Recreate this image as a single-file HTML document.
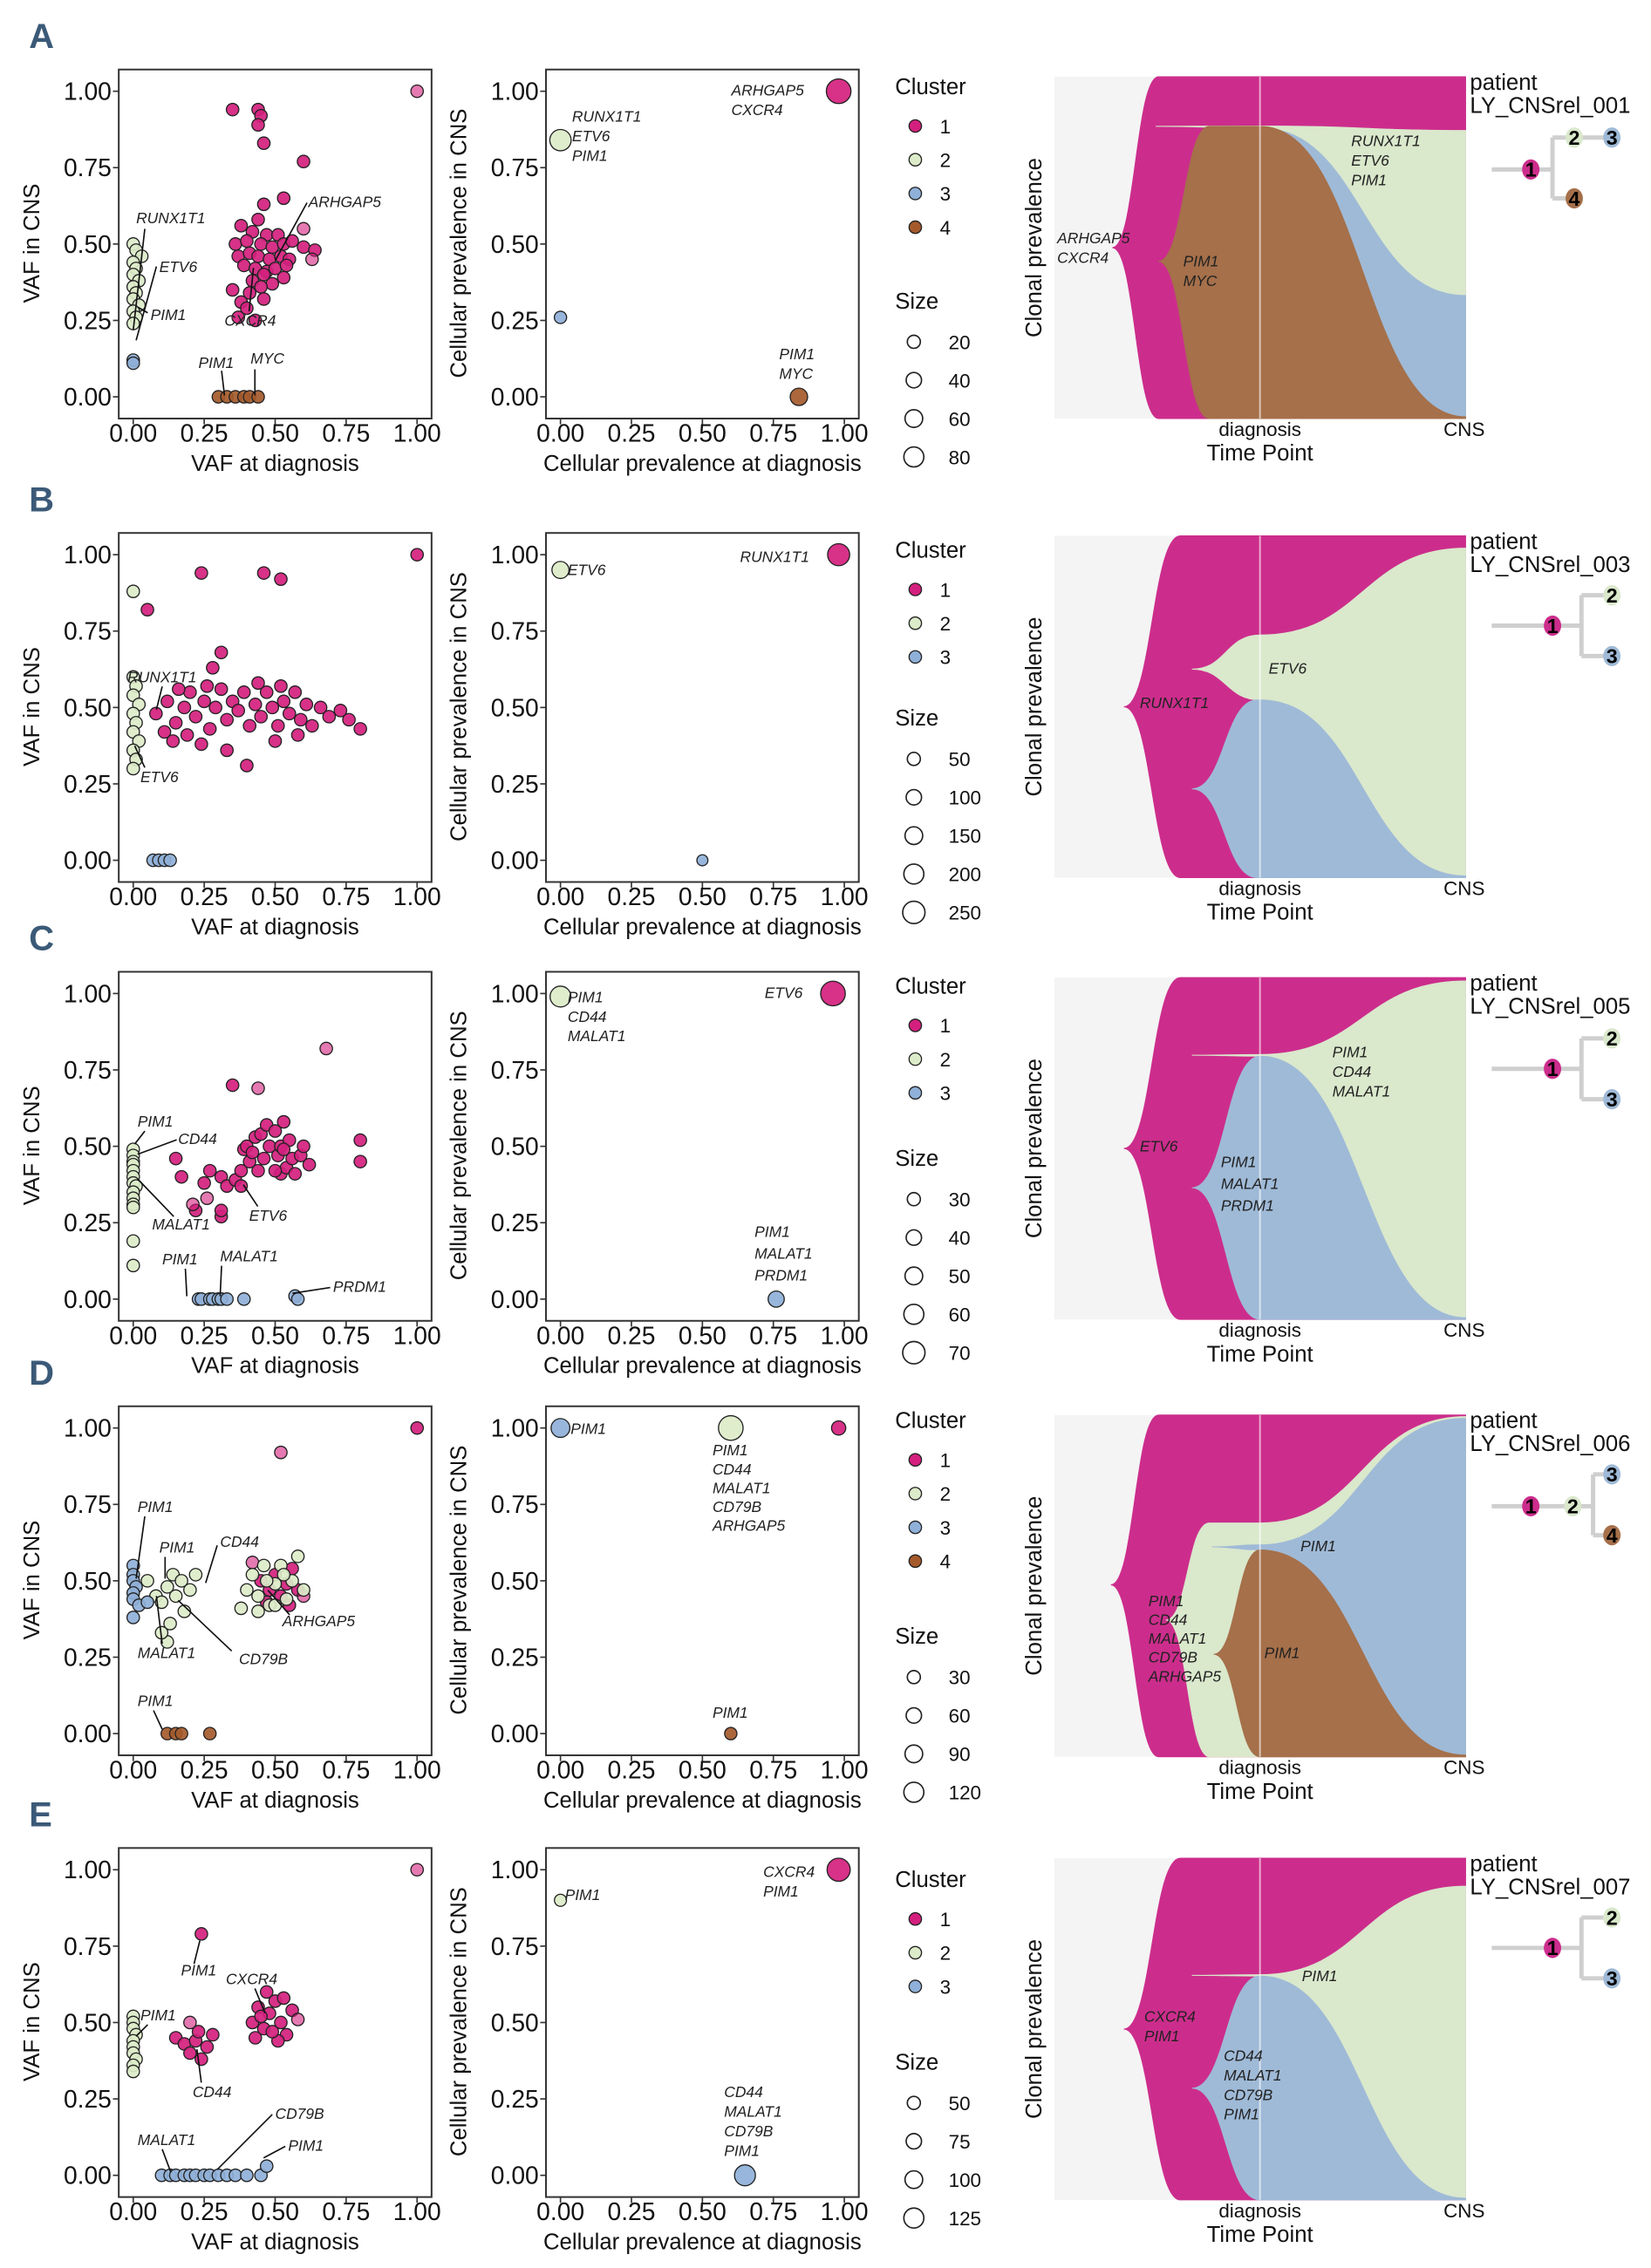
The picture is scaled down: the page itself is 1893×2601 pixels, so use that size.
<!DOCTYPE html>
<html><head><meta charset="utf-8"><style>
html,body{margin:0;padding:0;background:#fff}
svg{display:block}
text{font-family:"Liberation Sans",sans-serif}
</style></head><body>
<svg id="fig" xmlns="http://www.w3.org/2000/svg" width="1893" height="2601" viewBox="0 0 1140 1566" preserveAspectRatio="none"></svg>
<script>
// ---------- data ----------
const panelLetters=['A','B','C','D','E'];
const panelDy=[0,320,623,923,1228];
const fishTop=[53,370,675,977,1283];
const patients=['LY_CNSrel_001','LY_CNSrel_003','LY_CNSrel_005','LY_CNSrel_006','LY_CNSrel_007'];
const clusterCounts=[4,3,3,4,3];
const sizeLegend=[[20,40,60,80],[50,100,150,200,250],[30,40,50,60,70],[30,60,90,120],[50,75,100,125]];
const xTicks=[0,0.25,0.5,0.75,1];
const xTickLabels=['0.00','0.25','0.50','0.75','1.00'];

// scatter 1 (VAF): [x, y, cluster, light]
const A_vaf=[[0.35,0.94,1],[0.44,0.94,1],[0.45,0.92,1],[0.44,0.89,1],[0.46,0.83,1],[0.6,0.77,1],[0.53,0.65,1],[0.46,0.63,1],[0.44,0.58,1],[0.38,0.56,1],[0.42,0.54,1],[0.47,0.53,1],[0.51,0.53,1],[0.36,0.5,1],[0.40,0.51,1],[0.45,0.5,1],[0.49,0.49,1],[0.53,0.5,1],[0.56,0.51,1],[0.6,0.49,1],[0.64,0.48,1],[0.37,0.46,1],[0.41,0.47,1],[0.44,0.46,1],[0.48,0.45,1],[0.52,0.46,1],[0.55,0.45,1],[0.39,0.43,1],[0.43,0.42,1],[0.47,0.41,1],[0.5,0.42,1],[0.54,0.43,1],[0.46,0.4,1],[0.42,0.38,1],[0.49,0.37,1],[0.53,0.39,1],[0.35,0.35,1],[0.41,0.34,1],[0.45,0.36,1],[0.38,0.31,1],[0.46,0.32,1],[0.40,0.29,1],[0.37,0.26,1],[0.43,0.25,1],[1,1,1,1],[0.6,0.55,1,1],[0.63,0.45,1,1],
[0,0.5,2],[0.01,0.48,2],[0.03,0.46,2],[0,0.44,2],[0.01,0.42,2],[0,0.40,2],[0.02,0.38,2],[0,0.36,2],[0.01,0.34,2],[0,0.32,2],[0.02,0.30,2],[0,0.28,2],[0.01,0.26,2],[0,0.24,2],
[0,0.12,3],[0,0.11,3],
[0.30,0,4],[0.33,0,4],[0.36,0,4],[0.39,0,4],[0.41,0,4],[0.44,0,4]];
const B_vaf=[[0.05,0.82,1],[0.24,0.94,1],[0.46,0.94,1],[0.52,0.92,1],[0.31,0.68,1],[0.28,0.63,1],[0.08,0.48,1],[0.12,0.52,1],[0.15,0.45,1],[0.18,0.5,1],[0.2,0.55,1],[0.22,0.47,1],[0.25,0.52,1],[0.27,0.43,1],[0.29,0.5,1],[0.31,0.56,1],[0.33,0.46,1],[0.35,0.52,1],[0.37,0.49,1],[0.39,0.55,1],[0.41,0.44,1],[0.43,0.51,1],[0.45,0.47,1],[0.47,0.55,1],[0.49,0.5,1],[0.51,0.44,1],[0.53,0.52,1],[0.55,0.48,1],[0.57,0.55,1],[0.59,0.46,1],[0.61,0.51,1],[0.63,0.44,1],[0.66,0.5,1],[0.69,0.47,1],[0.73,0.49,1],[0.8,0.43,1],[0.76,0.46,1],[0.11,0.42,1],[0.14,0.39,1],[0.19,0.41,1],[0.24,0.38,1],[0.33,0.36,1],[0.4,0.31,1],[0.5,0.39,1],[0.58,0.41,1],[0.16,0.56,1],[0.26,0.57,1],[0.44,0.58,1],[0.52,0.57,1],[1,1,1],
[0,0.88,2],[0,0.6,2],[0.01,0.57,2],[0,0.54,2],[0.02,0.51,2],[0,0.48,2],[0.01,0.45,2],[0,0.42,2],[0.02,0.39,2],[0,0.36,2],[0.01,0.33,2],[0,0.3,2],
[0.07,0,3],[0.09,0,3],[0.11,0,3],[0.13,0,3]];
const C_vaf=[[0.35,0.7,1],[0.44,0.69,1,1],[0.68,0.82,1,1],[0.8,0.52,1],[0.8,0.45,1],[0.15,0.46,1],[0.17,0.4,1],[0.25,0.38,1],[0.27,0.42,1],[0.31,0.4,1],[0.33,0.37,1],[0.36,0.39,1],[0.38,0.37,1],[0.22,0.29,1],[0.31,0.27,1],[0.31,0.29,1],[0.21,0.31,1,1],[0.26,0.33,1,1],[0.38,0.42,1],[0.39,0.49,1],[0.4,0.5,1],[0.41,0.45,1],[0.42,0.48,1],[0.43,0.53,1],[0.44,0.42,1],[0.45,0.54,1],[0.46,0.46,1],[0.47,0.57,1],[0.48,0.5,1],[0.5,0.55,1],[0.51,0.47,1],[0.52,0.5,1],[0.52,0.41,1],[0.53,0.58,1],[0.54,0.43,1],[0.55,0.52,1],[0.56,0.46,1],[0.57,0.41,1],[0.59,0.47,1],[0.6,0.5,1],[0.62,0.44,1],[0.5,0.42,1],[0.53,0.49,1],
[0,0.49,2],[0,0.47,2],[0,0.45,2],[0,0.44,2],[0,0.42,2],[0,0.40,2],[0,0.38,2],[0.01,0.37,2],[0,0.35,2],[0,0.33,2],[0,0.31,2],[0,0.30,2],[0,0.19,2],[0,0.11,2],
[0.23,0,3],[0.24,0,3],[0.27,0,3],[0.28,0,3],[0.3,0,3],[0.31,0,3],[0.33,0,3],[0.39,0,3],[0.57,0.01,3],[0.58,0,3]];
const D_vaf=[[1,1,1],[0.52,0.92,1,1],[0.45,0.5,1],[0.48,0.47,1],[0.5,0.52,1],[0.52,0.45,1],[0.54,0.49,1],[0.56,0.54,1],[0.58,0.47,1],[0.47,0.43,1],[0.55,0.42,1],[0.6,0.45,1,1],[0.42,0.56,1,1],
[0.05,0.5,2],[0.08,0.45,2],[0.1,0.43,2],[0.12,0.48,2],[0.14,0.52,2],[0.15,0.45,2],[0.17,0.5,2],[0.18,0.4,2],[0.2,0.47,2],[0.22,0.52,2],[0.13,0.36,2],[0.12,0.3,2],[0.1,0.33,2],[0.4,0.47,2],[0.42,0.52,2],[0.44,0.45,2],[0.46,0.55,2],[0.48,0.42,2],[0.5,0.49,2],[0.52,0.55,2],[0.54,0.44,2],[0.56,0.5,2],[0.58,0.58,2],[0.6,0.47,2],[0.38,0.41,2],[0.44,0.4,2],[0.5,0.42,2],[0.47,0.5,2],[0.53,0.52,2],
[0,0.55,3],[0,0.52,3],[0,0.5,3],[0.01,0.48,3],[0,0.46,3],[0,0.44,3],[0.02,0.42,3],[0,0.38,3],[0.05,0.43,3],
[0.12,0,4],[0.15,0,4],[0.17,0,4],[0.27,0,4]];
const E_vaf=[[1,1,1,1],[0.24,0.79,1],[0.15,0.45,1],[0.18,0.43,1],[0.2,0.4,1],[0.22,0.44,1],[0.24,0.38,1],[0.26,0.42,1],[0.23,0.47,1],[0.28,0.46,1],[0.2,0.5,1,1],[0.42,0.5,1],[0.44,0.55,1],[0.46,0.48,1],[0.48,0.53,1],[0.5,0.57,1],[0.52,0.5,1],[0.54,0.46,1],[0.47,0.6,1],[0.51,0.44,1],[0.45,0.52,1],[0.56,0.54,1],[0.49,0.47,1],[0.43,0.45,1],[0.53,0.58,1],[0.58,0.51,1,1],
[0,0.52,2],[0,0.5,2],[0,0.48,2],[0.01,0.46,2],[0,0.44,2],[0,0.42,2],[0,0.4,2],[0.01,0.38,2],[0,0.36,2],[0,0.34,2],
[0.1,0,3],[0.13,0,3],[0.15,0,3],[0.18,0,3],[0.2,0,3],[0.22,0,3],[0.25,0,3],[0.27,0,3],[0.3,0,3],[0.33,0,3],[0.36,0,3],[0.4,0,3],[0.45,0,3],[0.47,0.03,3]];
const vafData=[A_vaf,B_vaf,C_vaf,D_vaf,E_vaf];

// scatter 2 (cellular prevalence): [x, y, cluster, size]
const A_cp=[[0,0.84,2,60],[0,0.26,3,20],[0.84,0,4,40],[0.98,1,1,80]];
const B_cp=[[0,0.95,2,120],[0.98,1,1,200],[0.5,0,3,50]];
const C_cp=[[0,0.99,2,50],[0.96,1,1,70],[0.76,0,3,30]];
const D_cp=[[0,1,3,70],[0.6,1,2,120],[0.98,1,1,40],[0.6,0,4,30]];
const E_cp=[[0,0.9,2,30],[0.98,1,1,110],[0.65,0,3,90]];
const cpData=[A_cp,B_cp,C_cp,D_cp,E_cp];

// fish clones: cluster, emergence x, emergence frac, full-at x, band at diagnosis, band at CNS
const A_fish=[[1,768,0.5,800,[0,1],[0,1]],[2,798,0.145,870,[0.144,0.15],[0.157,1]],[3,866,0.15,870,[0.15,1],[0.64,1]],[4,800,0.54,835,[0.145,1],[0.995,1]]];
const B_fish=[[1,776,0.5,815,[0,1],[0,1]],[2,823,0.39,870,[0.29,0.48],[0.036,1]],[3,823,0.74,868,[0.48,1],[0.995,1]]];
const C_fish=[[1,776,0.5,815,[0,1],[0,1]],[2,823,0.227,870,[0.225,0.23],[0.01,1]],[3,823,0.615,870,[0.23,1],[0.995,1]]];
const D_fish=[[1,767,0.497,800,[0,1],[0,1]],[2,805,0.6,835,[0.316,1],[0.005,1]],[3,837,0.386,870,[0.38,0.395],[0.01,1]],[4,838,0.70,870,[0.395,1],[0.995,1]]];
const E_fish=[[1,776,0.5,815,[0,1],[0,1]],[2,823,0.343,870,[0.341,0.345],[0.082,1]],[3,823,0.673,870,[0.345,1],[0.995,1]]];
const fishData=[A_fish,B_fish,C_fish,D_fish,E_fish];

// ---------- drawing ----------
const NS='http://www.w3.org/2000/svg';
const svg=document.getElementById('fig');
const ptCol={1:'#d41f7e',2:'#dcebc9',3:'#8fb0d8',4:'#a55a2b'};
const fishCol={1:'#cc2d8c',2:'#dae8cc',3:'#9fbad7',4:'#a5704a'};
function mk(tag,at,par){const e=document.createElementNS(NS,tag);for(const k in at)e.setAttribute(k,at[k]);(par||svg).appendChild(e);return e;}
function txt(s,x,y,at,par){const e=mk('text',Object.assign({x:x,y:y},at||{}),par);e.textContent=s;return e;}
function lbl(lines,x,y,step){step=step||13.5;lines.forEach((s,i)=>{const t=txt(s,x,y+i*step,{'font-size':10.5,'font-style':'italic',fill:'#222'});});}
function lead(x1,y1,x2,y2){const l=mk('line',{x1:x1,y1:y1,x2:x2,y2:y2,stroke:'#111','stroke-width':1});}

function scatter(p,x0,data,kind,title,ytitle){
  const dy=panelDy[p];
  const g=mk('g',{});
  
  
  const xs=v=>x0+10+196*v, ys=v=>dy+274-211*v;
  const box=mk('rect',{x:x0,y:dy+48,width:216,height:241,fill:'#fff',stroke:'#333','stroke-width':1.2},g);
  
  xTicks.forEach((v,i)=>{
    mk('line',{x1:xs(v),x2:xs(v),y1:dy+289,y2:dy+293,stroke:'#333'},g);
    const t=txt(xTickLabels[i],xs(v),dy+305,{'font-size':17,'text-anchor':'middle',fill:'#111'},g);
    
    mk('line',{x1:x0-4,x2:x0,y1:ys(v),y2:ys(v),stroke:'#333'},g);
    const u=txt(xTickLabels[i],x0-5,ys(v)+6,{'font-size':17,'text-anchor':'end',fill:'#111'},g);
    
  });
  const xt=txt(title,x0+108,dy+325,{'font-size':15.5,'text-anchor':'middle',fill:'#111'},g);
  
  const yx=x0-55;
  const yt=txt(ytitle,yx,dy+168,{'font-size':15.5,'text-anchor':'middle',fill:'#111',transform:`rotate(-90 ${yx} ${dy+168})`},g);
  
  const maxS=Math.max.apply(null,sizeLegend[p]);
  data.forEach(d=>{
    const r=kind==='vaf'?4.3:Math.max(3.5,8.5*Math.sqrt(d[3]/maxS));
    const c=mk('circle',{cx:xs(d[0]),cy:ys(d[1]),r:r,fill:ptCol[d[2]],stroke:'#222','stroke-width':0.8,'fill-opacity':(kind==='vaf'&&d[3])?0.6:0.92},g);
    
    
  });
  return g;
}

function fish(p,clones){
  const top=fishTop[p],H=236,diag=870,cns=1012;
  const g=mk('g',{});
  
  const bg=mk('rect',{x:728,y:top,width:cns-728,height:H,fill:'#f4f4f4'},g);
  
  const Y=f=>top+H*f, mid=(diag+cns)/2;
  clones.forEach(c=>{
    const [cl,ex,ey,ax,dB,cB]=c;
    const hx=(ex+ax)/2;
    const d=`M${ex},${Y(ey)} C${hx},${Y(ey)} ${hx},${Y(dB[0])} ${ax},${Y(dB[0])} L${diag},${Y(dB[0])} C${mid},${Y(dB[0])} ${mid},${Y(cB[0])} ${cns},${Y(cB[0])} L${cns},${Y(cB[1])} C${mid},${Y(cB[1])} ${mid},${Y(dB[1])} ${diag},${Y(dB[1])} L${ax},${Y(dB[1])} C${hx},${Y(dB[1])} ${hx},${Y(ey)} ${ex},${Y(ey)} Z`;
    const pth=mk('path',{d:d,fill:fishCol[cl],stroke:fishCol[cl],'stroke-width':0.6},g);
    
  });
  mk('line',{x1:diag,x2:diag,y1:top,y2:top+H,stroke:'#ffffff','stroke-opacity':0.6,'stroke-width':1.2},g);
  const a=txt('diagnosis',diag,top+248,{'font-size':13.5,'text-anchor':'middle',fill:'#111'},g);
  
  const b=txt('CNS',1011,top+248,{'font-size':13.5,'text-anchor':'middle',fill:'#111'},g);
  
  const t=txt('Time Point',diag,top+265,{'font-size':15.5,'text-anchor':'middle',fill:'#111'},g);
  
  const yt=txt('Clonal prevalence',719,top+118,{'font-size':15.5,'text-anchor':'middle',fill:'#111',transform:`rotate(-90 719 ${top+118})`},g);
  
  const p1=txt('patient',1015,top+9,{'font-size':15.5,fill:'#111'},g);
  
  const p2=txt(patients[p],1015,top+25,{'font-size':15.5,fill:'#111'},g);
  
  return g;
}

function legend(p){
  const g=mk('g',{});
  
  const cy0=[60,380,681,981,1298][p];
  const h=txt('Cluster',618,cy0+5,{'font-size':15.5,fill:'#111'},g);
  
  for(let i=1;i<=clusterCounts[p];i++){
    const y=cy0+27+(i-1)*23.3;
    const c=mk('circle',{cx:632,cy:y,r:4.3,fill:ptCol[i],stroke:'#222','stroke-width':0.8},g);
    
    txt(String(i),649,y+5,{'font-size':13.5,fill:'#111'},g);
  }
  const sy0=[208,496,800,1130,1424][p];
  const s=txt('Size',618,sy0+5,{'font-size':15.5,fill:'#111'},g);
  
  sizeLegend[p].forEach((v,i)=>{
    const y=sy0+28+i*26.5;
    const c=mk('circle',{cx:631,cy:y,r:4.5+i*0.8,fill:'#fff',stroke:'#222','stroke-width':1},g);
    
    txt(String(v),655,y+5,{'font-size':13.5,fill:'#111'},g);
  });
}

function tree(p){
  const g=mk('g',{});
  
  const line=(x1,y1,x2,y2)=>mk('line',{x1:x1,y1:y1,x2:x2,y2:y2,stroke:'#cfcfcf','stroke-width':3},g);
  const node=(n,x,y)=>{const e=mk('ellipse',{cx:x,cy:y,rx:6,ry:7,fill:fishCol[n]},g);txt(String(n),x,y+5,{'font-size':14,'font-weight':'bold','text-anchor':'middle',fill:'#000'},g);};
  if(p===0){const y=117;line(1030,y,1072,y);line(1072,95,1072,137);line(1072,95,1113,95);line(1072,137,1087,137);node(1,1057,y);node(2,1087,95);node(3,1113,95);node(4,1087,137);}
  else if(p===3){const y=1040;line(1030,y,1100,y);line(1100,1018,1100,1060);line(1100,1018,1113,1018);line(1100,1060,1113,1060);node(1,1057,y);node(2,1086,y);node(3,1113,1018);node(4,1113,1060);}
  else{const y=[0,432,738,0,1345][p];line(1030,y,1092,y);line(1092,y-21,1092,y+21);line(1092,y-21,1113,y-21);line(1092,y+21,1113,y+21);node(1,1072,y);node(2,1113,y-21);node(3,1113,y+21);}
}

for(let p=0;p<5;p++){
  const L=txt(panelLetters[p],20,panelDy[p]+33,{'font-size':24,'font-weight':'bold',fill:'#3b5a78'});
  
  scatter(p,82,vafData[p],'vaf','VAF at diagnosis','VAF in CNS');
  scatter(p,377,cpData[p],'cp','Cellular prevalence at diagnosis','Cellular prevalence in CNS');
  legend(p);
  fish(p,fishData[p]);
  tree(p);
}

// ---------- annotations ----------
// A
lbl(['RUNX1T1'],94,154);lead(100,158,92,228);
lbl(['ETV6'],110,188);lead(108,184,94,235);
lbl(['PIM1'],104,221);lead(102,216,95,212);
lbl(['ARHGAP5'],213,143);lead(212,140,190,180);
lbl(['CXCR4'],155,225);lead(172,215,175,185);
lbl(['PIM1'],137,254);lead(153,256,155,273);
lbl(['MYC'],173,251);lead(176,255,176,273);
lbl(['RUNX1T1','ETV6','PIM1'],395,84);
lbl(['ARHGAP5','CXCR4'],505,66);
lbl(['PIM1','MYC'],538,248);
lbl(['ARHGAP5','CXCR4'],730,168);
lbl(['PIM1','MYC'],817,184);
lbl(['RUNX1T1','ETV6','PIM1'],933,101);
// B
lbl(['RUNX1T1'],88,471);lead(112,474,108,490);
lbl(['ETV6'],97,540);lead(100,530,93,515);
lbl(['ETV6'],392,397);
lbl(['RUNX1T1'],511,388);
lbl(['RUNX1T1'],787,489);
lbl(['ETV6'],876,465);
// C
lbl(['PIM1'],95,778);lead(100,781,93,790);
lbl(['CD44'],123,790);lead(122,787,95,797);
lbl(['MALAT1'],105,849);lead(120,840,95,814);
lbl(['ETV6'],172,843);lead(178,833,168,818);
lbl(['PIM1'],112,873);lead(128,876,129,895);
lbl(['MALAT1'],152,871);lead(153,874,152,895);
lbl(['PRDM1'],230,892);lead(228,889,202,893);
lbl(['PIM1','CD44','MALAT1'],392,692);
lbl(['ETV6'],528,689);
lbl(['PIM1','MALAT1','PRDM1'],521,854,15);
lbl(['ETV6'],787,795);
lbl(['PIM1','MALAT1','PRDM1'],843,806,15);
lbl(['PIM1','CD44','MALAT1'],920,730);
// D
lbl(['PIM1'],95,1044);lead(100,1047,94,1090);
lbl(['PIM1'],110,1072);lead(114,1075,114,1090);
lbl(['CD44'],152,1068);lead(150,1067,142,1093);
lbl(['MALAT1'],95,1145);lead(112,1135,108,1102);
lbl(['CD79B'],165,1149);lead(160,1140,123,1105);
lbl(['ARHGAP5'],195,1123);lead(200,1115,185,1098);
lbl(['PIM1'],95,1178);lead(106,1181,112,1194);
lbl(['PIM1'],394,990);
lbl(['PIM1','CD44','MALAT1','CD79B','ARHGAP5'],492,1005,13);
lbl(['PIM1'],492,1186);
lbl(['PIM1','CD44','MALAT1','CD79B','ARHGAP5'],793,1109,13);
lbl(['PIM1'],873,1145);
lbl(['PIM1'],898,1071);
// E
lbl(['PIM1'],125,1364);lead(134,1356,138,1340);
lbl(['CXCR4'],156,1370);lead(176,1373,183,1390);
lbl(['PIM1'],97,1395);lead(102,1398,94,1406);
lbl(['CD44'],133,1448);lead(139,1438,136,1415);
lbl(['CD79B'],190,1463);lead(188,1460,150,1498);
lbl(['MALAT1'],95,1481);lead(112,1484,118,1500);
lbl(['PIM1'],199,1485);lead(197,1482,182,1490);
lbl(['PIM1'],390,1312);
lbl(['CXCR4','PIM1'],527,1296);
lbl(['CD44','MALAT1','CD79B','PIM1'],500,1448);
lbl(['CXCR4','PIM1'],790,1396);
lbl(['CD44','MALAT1','CD79B','PIM1'],845,1423);
lbl(['PIM1'],899,1368);
</script>
</body></html>
